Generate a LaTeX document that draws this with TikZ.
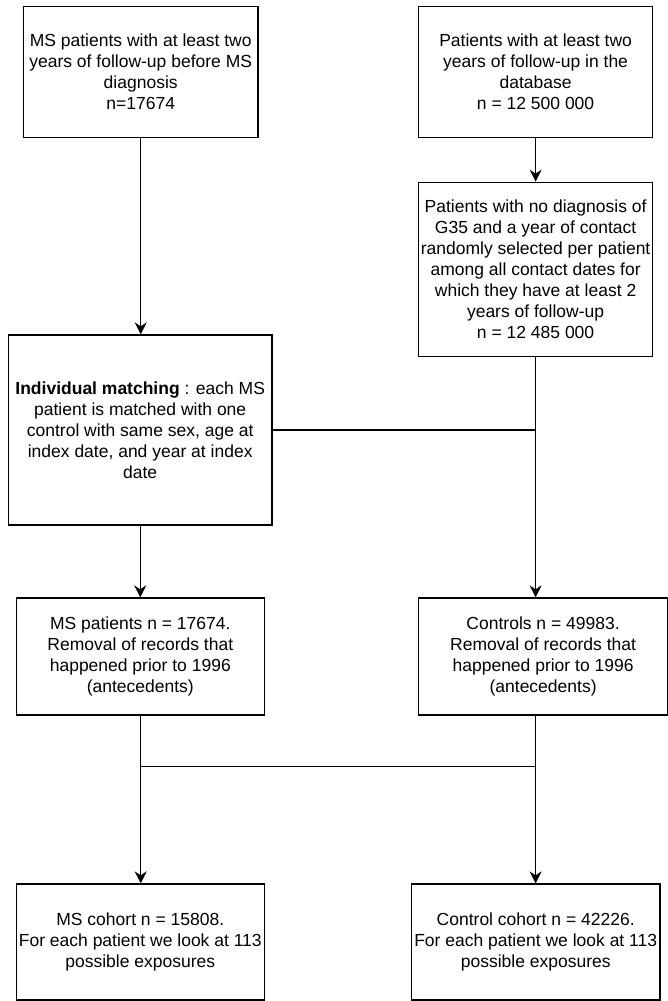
\documentclass[tikz,border=0pt]{standalone}
\usepackage{fontspec}
\setmainfont{Liberation Sans}
\usetikzlibrary{arrows.meta}

\begin{document}
\begin{tikzpicture}[x=1pt, y=-1pt,
  box/.style={draw, line width=1.3pt, align=center, inner sep=0pt,
    font=\fontsize{17.5}{21}\selectfont},
  arrow/.style={line width=1.3pt, -{Stealth[length=12pt,width=12pt,inset=4pt]}}]
	\useasboundingbox (0,0) rectangle (668,1001);
	% top row
	\node[box, minimum width=234.5, minimum height=131] (msfollow) at (140.7,72.2)
	  {MS patients with at least two\\years of follow-up before MS\\diagnosis\\n=17674};
	\node[box, minimum width=233.7, minimum height=131] (allfollow) at (535.6,72.2)
	  {Patients with at least two\\years of follow-up in the\\database\\n = 12 500 000};
	\node[box, minimum width=233.7, minimum height=174.4] (nodiag) at (535.6,269.5)
	  {Patients with no diagnosis of\\G35 and a year of contact\\randomly selected per patient\\among all contact dates for\\which they have at least 2\\years of follow-up\\n = 12 485 000};
	\node[box, minimum width=263.5, minimum height=190] (matching) at (140.2,430)
	  {\textbf{Individual matching} : each MS\\patient is matched with one\\control with same sex, age at\\index date, and year at index\\date};
	% removal of antecedents
	\node[box, minimum width=248.2, minimum height=117] (mspat) at (140.3,656.5)
	  {MS patients n = 17674.\\Removal of records that\\happened prior to 1996\\(antecedents)};
	\node[box, minimum width=248.6, minimum height=117] (controls) at (543.1,656.5)
	  {Controls n = 49983.\\Removal of records that\\happened prior to 1996\\(antecedents)};
	% cohorts
	\node[box, minimum width=248.2, minimum height=116] (mscohort) at (140.3,942)
	  {MS cohort n = 15808.\\For each patient we look at 113\\possible exposures};
	\node[box, minimum width=248.5, minimum height=116] (ctrlcohort) at (535.7,942)
	  {Control cohort n = 42226.\\For each patient we look at 113\\possible exposures};
	\coordinate (jl) at (140.7,766.7);
	\coordinate (jr) at (535.6,766.7);
	% connectors
	\draw[arrow] (msfollow.south) -- (msfollow.south |- matching.north);
	\draw[arrow] (allfollow.south) -- (nodiag.north);
	\draw[arrow] (nodiag.south) -- (nodiag.south |- controls.north);
	\draw[line width=1.3pt] (matching.east) -- (matching.east -| nodiag.south);
	\draw[arrow] (matching.south) -- (matching.south |- mspat.north);
	\draw[arrow] (mspat.south -| jl) -- (jl) -- (jl |- mscohort.north);
	\draw[arrow] (controls.south -| jr) -- (jr) -- (jr |- ctrlcohort.north);
	\draw[line width=1.3pt] (jl) -- (jr);
\end{tikzpicture}
\end{document}
